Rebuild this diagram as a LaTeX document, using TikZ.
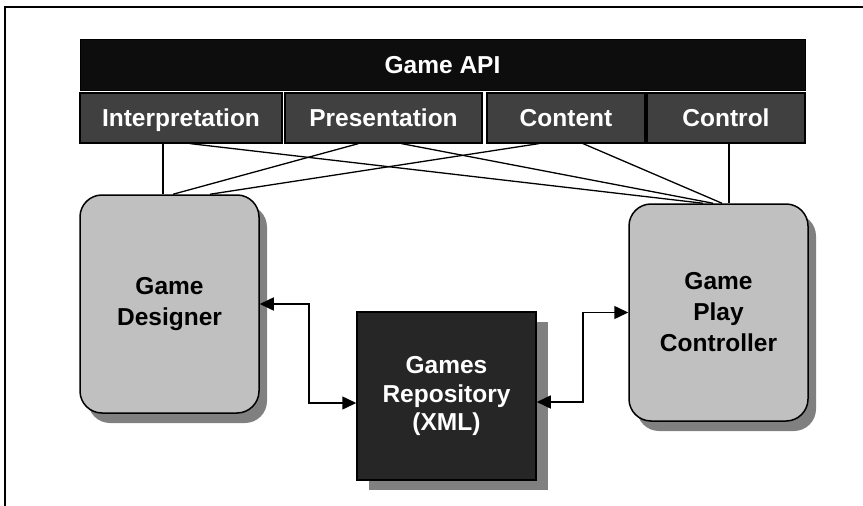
\documentclass[tikz,border=0pt]{standalone}
\usepackage{fontspec}
\setmainfont{Liberation Sans}
\usepackage{tikz}
\usetikzlibrary{arrows.meta, positioning, shadows, calc}
\definecolor{ApiBlack}{HTML}{0D0D0D}
\definecolor{LayerGray}{HTML}{404040}
\definecolor{RepoGray}{HTML}{262626}
\definecolor{RoleGray}{HTML}{C0C0C0}
\definecolor{ShadowGray}{HTML}{808080}
\tikzset{
  % Box styles
  apibar/.style={rectangle, draw=black, line width=1pt, fill=ApiBlack, text=white, minimum width=725pt, minimum height=51pt, inner sep=0pt, text height=17.5pt, text depth=0pt, font=\fontsize{24.5}{30}\selectfont\bfseries},
  layerbox/.style={rectangle, draw=black, line width=1.2pt, fill=LayerGray, text=white, minimum height=50pt, inner sep=0pt, text height=21.5pt, text depth=4pt, font=\fontsize{24.5}{30}\selectfont\bfseries},
  rolebox/.style={rectangle, rounded corners=22pt, draw=black, line width=1.5pt, fill=RoleGray, minimum width=179pt, minimum height=218pt, inner sep=0pt, align=center, font=\fontsize{24.5}{31}\selectfont\bfseries, drop shadow={shadow xshift=8pt, shadow yshift=-10pt, fill=ShadowGray, opacity=1}},
  repobox/.style={rectangle, draw=black, line width=1.5pt, fill=RepoGray, text=white, minimum width=179pt, minimum height=168pt, inner sep=0pt, align=center, font=\fontsize{24.5}{28.5}\selectfont\bfseries, drop shadow={shadow xshift=12pt, shadow yshift=-10pt, fill=ShadowGray, opacity=1}},
  % Arrow styles
  biarrow/.style={{Triangle[length=14pt,width=13pt]}-{Triangle[length=14pt,width=13pt]}, line width=1.5pt},
  link/.style={line width=1.3pt}
}
\begin{document}
\begin{tikzpicture}[x=1pt, y=-1pt]
  \useasboundingbox (0,0) rectangle (863,506);
  % frame
  \draw[line width=2pt] (5,506) -- (5,7) -- (863,7);

  % API layers
  \node[apibar] (api) at (442.5,64.5) {Game API};
  \node[layerbox, minimum width=202pt] (interp) at (181,118) {Interpretation};
  \node[layerbox, minimum width=197pt] (present) at (383.5,118) {Presentation};
  \node[layerbox, minimum width=158pt] (content) at (566,118) {Content};
  \node[layerbox, minimum width=158pt] (control) at (726,118) {Control};

  % Roles and repository
  \node[rolebox] (designer) at (169.5,304) {Game\\Designer};
  \node[rolebox, minimum height=217pt] (player) at (718.5,312.5) {Game\\Play\\Controller};
  \node[repobox] (repo) at (446.5,396) {Games\\Repository\\(XML)};

  % API links
  \draw[link] ([xshift=-18pt]interp.south) -- ([xshift=-6.5pt]designer.north);
  \draw[link] ([xshift=9pt]interp.south) -- ([xshift=-15.5pt]player.north);
  \draw[link] ([xshift=-25pt]present.south) -- ([xshift=3.5pt]designer.north);
  \draw[link] ([xshift=18pt]present.south) -- ([xshift=-5.5pt]player.north);
  \draw[link] ([xshift=-27pt]content.south) -- ([xshift=40.5pt]designer.north);
  \draw[link] ([xshift=17pt]content.south) -- ([xshift=3.5pt]player.north);
  \draw[link] ([xshift=3pt]control.south) -- ([xshift=10.5pt]player.north);

  % Repository access
  \draw[biarrow] (designer.east) -- ++(49,0) |- ([yshift=-7pt]repo.west);
  \draw[biarrow] ([yshift=-6pt]repo.east) -- ++(46,0) |- (player.west);
\end{tikzpicture}
\end{document}
